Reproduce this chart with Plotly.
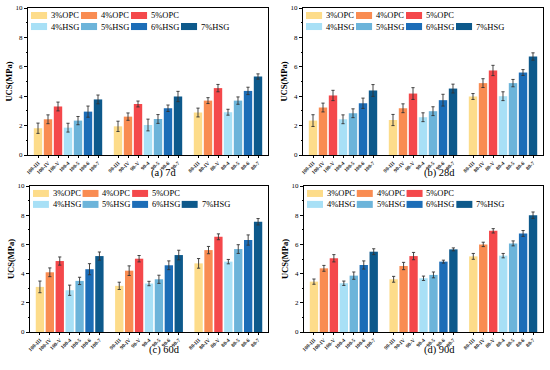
import plotly.graph_objects as go

series = ["3%OPC", "4%OPC", "5%OPC", "4%HSG", "5%HSG", "6%HSG", "7%HSG"]
colors = ["#FDDC8A", "#F98C52", "#F4484B", "#A8E0F6", "#6CB4DA", "#1C6DB7", "#0D598B"]
groups = ["100", "90", "80"]
suffix = ["III", "IV", "V", "4", "5", "6", "7"]
panel_titles = ["(a) 7d", "(b) 28d", "(c) 60d", "(d) 90d"]

# values[panel][series] -> [100, 90, 80]
ucs_7d = [[1.82, 1.95, 2.89], [2.43, 2.61, 3.70], [3.30, 3.47, 4.55], [1.86, 2.04, 2.91],
          [2.34, 2.45, 3.70], [2.95, 3.18, 4.36], [3.78, 3.98, 5.34]]
err_7d = [[0.35, 0.35, 0.30], [0.30, 0.25, 0.20], [0.30, 0.20, 0.25], [0.30, 0.40, 0.20],
          [0.28, 0.30, 0.25], [0.38, 0.22, 0.25], [0.30, 0.35, 0.18]]
ucs_28d = [[2.34, 2.38, 3.98], [3.23, 3.18, 4.89], [4.05, 4.18, 5.75], [2.43, 2.57, 4.00],
           [2.84, 2.98, 4.89], [3.52, 3.73, 5.61], [4.39, 4.52, 6.70]]
err_28d = [[0.40, 0.38, 0.20], [0.30, 0.30, 0.30], [0.35, 0.40, 0.35], [0.30, 0.30, 0.30],
           [0.30, 0.30, 0.25], [0.35, 0.40, 0.20], [0.40, 0.30, 0.25]]
ucs_60d = [[3.09, 3.16, 4.70], [4.09, 4.20, 5.61], [4.86, 5.02, 6.52], [2.86, 3.32, 4.82],
           [3.50, 3.61, 5.68], [4.30, 4.57, 6.30], [5.20, 5.27, 7.55]]
err_60d = [[0.40, 0.25, 0.33], [0.30, 0.33, 0.25], [0.28, 0.22, 0.20], [0.35, 0.15, 0.15],
           [0.25, 0.28, 0.30], [0.38, 0.30, 0.35], [0.28, 0.33, 0.22]]
ucs_90d = [[3.45, 3.61, 5.18], [4.36, 4.52, 6.00], [5.05, 5.20, 6.93], [3.34, 3.68, 5.23],
           [3.86, 3.91, 6.07], [4.59, 4.82, 6.75], [5.50, 5.66, 8.00]]
err_90d = [[0.18, 0.20, 0.20], [0.20, 0.25, 0.15], [0.25, 0.25, 0.15], [0.15, 0.15, 0.15],
           [0.25, 0.20, 0.17], [0.28, 0.10, 0.20], [0.20, 0.10, 0.22]]

values = [ucs_7d, ucs_28d, ucs_60d, ucs_90d]
errors = [err_7d, err_28d, err_60d, err_90d]

# category positions: 7 bars per group, one empty slot between groups
positions = [[g * 8 + s for g in range(3)] for s in range(len(series))]
tickvals = [g * 8 + s for g in range(3) for s in range(len(series))]
ticktext = [f"<b>{grp}-{sf}</b>" for grp in groups for sf in suffix]

W, H = 550, 370
# pixel boxes of each panel (left, right, top, bottom)
boxes = [(28, 268, 8, 155), (303, 543, 8, 155), (30, 268, 186, 332), (304, 543, 186, 332)]

SERIF = "Times New Roman, Liberation Serif, serif"
fig = go.Figure()
layout = dict(width=W, height=H, margin=dict(l=0, r=0, t=0, b=0), template="none",
              paper_bgcolor="white", plot_bgcolor="white", showlegend=False,
              barmode="overlay", font=dict(family=SERIF, color="black"))
shapes, annotations = [], []

for p in range(4):
    sx = "" if p == 0 else str(p + 1)
    xa, ya = "x" + sx, "y" + sx
    for s, name in enumerate(series):
        fig.add_trace(go.Bar(
            x=positions[s], y=values[p][s], name=name, width=0.84,
            marker=dict(color=colors[s], line=dict(width=0)),
            error_y=dict(type="data", array=errors[p][s], color="#333333", thickness=0.9, width=1.6),
            xaxis=xa, yaxis=ya, showlegend=False))
    l, r, t, b = boxes[p]
    layout["xaxis" + sx] = dict(
        domain=[l / W, r / W], anchor=ya, range=[-1, 23], tickvals=tickvals, ticktext=ticktext,
        tickangle=-45, tickfont=dict(size=5.3, family=SERIF, color="#222"), ticks="outside", ticklen=2,
        tickwidth=0.8, tickcolor="black", showline=True, linecolor="black", linewidth=1, mirror=True,
        showgrid=False, zeroline=False, automargin=False)
    layout["yaxis" + sx] = dict(
        domain=[1 - b / H, 1 - t / H], anchor=xa, range=[0, 10], dtick=2, tick0=0,
        ticks="outside", ticklen=3, tickwidth=0.8, tickcolor="black",
        tickfont=dict(size=7, family=SERIF, color="black"),
        minor=dict(ticks="outside", ticklen=1.5, dtick=1, tickcolor="black", showgrid=False),
        showline=True, linecolor="black", linewidth=1, mirror=True, showgrid=False, zeroline=False,
        automargin=False,
        title=dict(text="<b>UCS(MPa)</b>", font=dict(size=8.5, family=SERIF), standoff=1))
    # panel title
    annotations.append(dict(xref=xa + " domain", yref=ya + " domain", x=0.567, y=-0.125,
                            text=panel_titles[p], showarrow=False, xanchor="center", yanchor="middle",
                            font=dict(size=10.5, family=SERIF, color="black")))
    # legend: two rows (OPC row, HSG row)
    for s, name in enumerate(series):
        row = 0 if s < 3 else 1
        col = s if s < 3 else s - 3
        x0 = 0.0125 + col * 0.2083
        yc = 0.949 - row * 0.075
        shapes.append(dict(type="rect", xref=xa + " domain", yref=ya + " domain",
                           x0=x0, x1=x0 + 0.067, y0=yc - 0.024, y1=yc + 0.024,
                           fillcolor=colors[s], line=dict(width=0)))
        annotations.append(dict(xref=xa + " domain", yref=ya + " domain", x=x0 + 0.075, y=yc,
                                text=name, showarrow=False, xanchor="left", yanchor="middle",
                                font=dict(size=8.5, family=SERIF, color="black")))

layout["shapes"] = shapes
layout["annotations"] = annotations
fig.update_layout(**layout)
fig.write_html("out.html", config={"displayModeBar": False},
               post_script="document.body.style.margin='0px';document.body.style.overflow='hidden';")
